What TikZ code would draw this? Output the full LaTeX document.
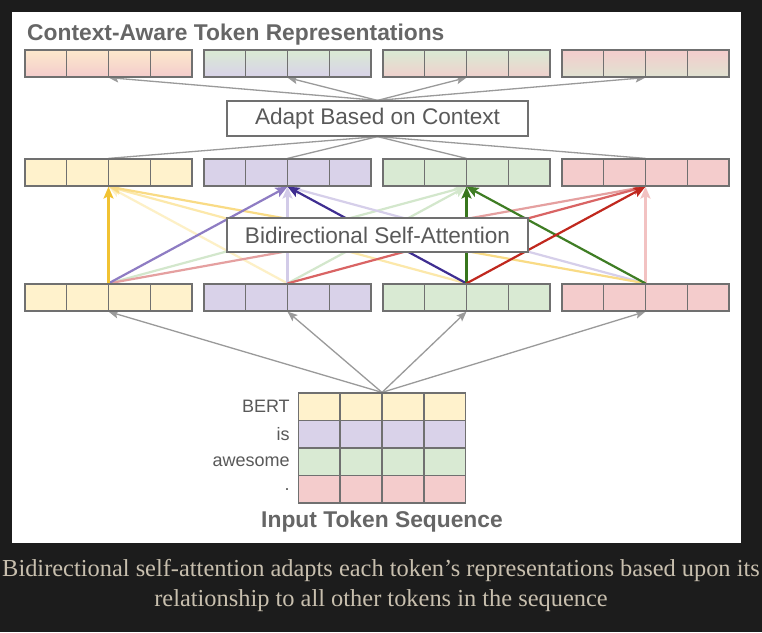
\documentclass[tikz,border=0pt]{standalone}
\usepackage{fontspec}
\setmainfont{Liberation Sans}
\newfontfamily\captionfont{Liberation Serif}
\usetikzlibrary{arrows.meta,calc,positioning}

\definecolor{tokyellow}{HTML}{FFF2CC}
\definecolor{tokpurple}{HTML}{D9D2E9}
\definecolor{tokgreen}{HTML}{D9EAD3}
\definecolor{tokred}{HTML}{F4CCCC}
\definecolor{cellgray}{HTML}{707070}
\definecolor{linkgray}{HTML}{9A9A9A}
\definecolor{labelgray}{HTML}{595959}
\definecolor{headgray}{HTML}{666666}
\definecolor{pagedark}{HTML}{1C1C1C}
\definecolor{captiontan}{HTML}{C8BFAE}

\pgfdeclarelayer{panel}
\pgfdeclarelayer{links}
\pgfsetlayers{panel,links,main}

\tikzset{
  tokens/.style={draw=cellgray, line width=1.2pt, minimum width=167pt,
    minimum height=27pt, inner sep=0pt},
  cell/.style={draw=cellgray, line width=1.2pt},
  feed/.style={draw=linkgray, line width=1.3pt,
    -{Stealth[length=10pt,width=8pt,inset=2pt]}},
  ctxlink/.style={draw=linkgray, line width=1.3pt},
  attn/.style={draw=#1, line width=2.2pt,
    -{Stealth[length=12pt,width=10pt,inset=2.5pt,fill=#1]}},
  stepbox/.style={draw=cellgray, fill=white, line width=1.2pt,
    minimum width=301pt, minimum height=34pt,
    font=\fontsize{22.6}{26}\selectfont, text=labelgray},
  heading/.style={font=\fontsize{22.8}{26}\selectfont\bfseries,
    text=headgray, inner sep=0pt},
  word/.style={font=\fontsize{18}{22}\selectfont, text=labelgray, inner sep=0pt},
  caption/.style={font=\captionfont\fontsize{24.4}{29.5}\selectfont,
    text=captiontan, inner sep=0pt, align=center},
}

\begin{document}
\begin{tikzpicture}[x=1pt, y=-1pt]
  \useasboundingbox (0,0) rectangle (762,632);
  \begin{pgfonlayer}{panel}
    \fill[pagedark] (0,0) rectangle (762,632);
    \fill[white] (12,12) rectangle (741,543);
  \end{pgfonlayer}

  % Headings
  \node[heading, anchor=base west] (head) at (27,40) {Context-Aware Token Representations};
  \node[heading, anchor=base] (foot) at (382,527) {Input Token Sequence};

  % Context-aware rows (mixed colours)
  \node[tokens, top color=tokyellow!75!tokred, bottom color=tokred] (top1) at (108.5,63.5) {};
  \node[tokens, top color=tokgreen, bottom color=tokpurple] (top2) at (287.5,63.5) {};
  \node[tokens, top color=tokgreen, bottom color=tokred!85!tokgreen] (top3) at (466.5,63.5) {};
  \node[tokens, top color=tokred, bottom color=tokgreen!75!tokred] (top4) at (645.5,63.5) {};

  % Attended rows
  \node[tokens, fill=tokyellow] (mid1) at (108.5,172.5) {};
  \node[tokens, fill=tokpurple] (mid2) at (287.5,172.5) {};
  \node[tokens, fill=tokgreen] (mid3) at (466.5,172.5) {};
  \node[tokens, fill=tokred] (mid4) at (645.5,172.5) {};

  % Embedded rows
  \node[tokens, fill=tokyellow] (bot1) at (108.5,297.5) {};
  \node[tokens, fill=tokpurple] (bot2) at (287.5,297.5) {};
  \node[tokens, fill=tokgreen] (bot3) at (466.5,297.5) {};
  \node[tokens, fill=tokred] (bot4) at (645.5,297.5) {};

  % Input sequence
  \node[tokens, minimum height=27.5pt, fill=tokyellow] (in1) at (382,406.75) {};
  \node[tokens, minimum height=27.5pt, fill=tokpurple] (in2) at (382,434.25) {};
  \node[tokens, minimum height=27.5pt, fill=tokgreen] (in3) at (382,461.75) {};
  \node[tokens, minimum height=27.5pt, fill=tokred] (in4) at (382,489.25) {};
  \node[word, left=8pt of in1] (w1) {BERT};
  \node[word, left=8pt of in2] (w2) {is};
  \node[word, left=8pt of in3] (w3) {awesome};
  \node[word, left=8pt of in4] (w4) {.};

  % Cell dividers
  \foreach \g in {top1,top2,top3,top4,mid1,mid2,mid3,mid4,bot1,bot2,bot3,bot4,in1,in2,in3,in4}
    \foreach \k in {0.25,0.5,0.75}
      \draw[cell] ($(\g.north west)!\k!(\g.north east)$) -- ($(\g.south west)!\k!(\g.south east)$);

  % Step labels
  \node[stepbox, minimum height=35pt] (adapt) at (377.5,118.5) {Adapt Based on Context};
  \node[stepbox] (bidir) at (377.5,235) {Bidirectional Self-Attention};

  \begin{pgfonlayer}{links}
    % Gray connectors
    \foreach \j in {1,...,4} {
      \draw[feed] (in1.north) -- (bot\j.south);
      \draw[ctxlink] (mid\j.north) -- (adapt.south);
      \draw[feed] (adapt.north) -- (top\j.south);
    }
    % Attention weights, faint first
    \foreach \s/\t/\c in {2/1/FDF0C6, 3/1/FCE8AA, 1/3/D3E7CC, 2/3/D3E7CC,
        4/2/D6CFEA, 2/2/D2CBE8, 4/4/F2C2C2, 4/1/F9DB85, 1/4/E5A0A0,
        2/4/D96464, 1/2/8E7CC3, 1/1/F1C232, 3/2/3F2E91, 4/3/3F7D24,
        3/3/38761D, 3/4/C0281E} {
      \definecolor{w}{HTML}{\c}
      \draw[attn=w] (bot\s.north) -- (mid\t.south);
    }
  \end{pgfonlayer}

  % Caption
  \node[caption, anchor=base] (note) at (381,606) {Bidirectional self-attention adapts each token’s representations based upon its\\relationship to all other tokens in the sequence};
\end{tikzpicture}
\end{document}
